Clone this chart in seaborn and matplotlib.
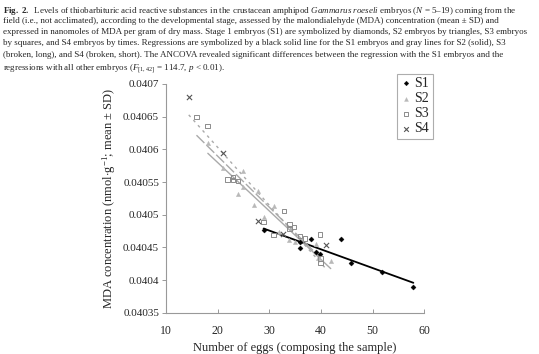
import pandas as pd
import matplotlib
matplotlib.use('Agg')
import matplotlib.pyplot as plt
import seaborn as sns

# values
s1_eggs = [28.9, 36.0, 36.0, 38.0, 39.0, 39.9, 43.9, 45.9, 51.8, 57.9]
s1_mda = [0.040477, 0.040459, 0.040449, 0.040463, 0.040443, 0.040440,
          0.040463, 0.040427, 0.040413, 0.040389]

s2_eggs = [18.1, 21.0, 25.0, 25.0, 24.0, 27.9, 27.0, 30.9, 29.0, 31.9,
           33.9, 34.9, 39.0, 39.5, 41.9]
s2_mda = [0.040609, 0.040571, 0.040567, 0.040542, 0.040531, 0.040537,
          0.040515, 0.040514, 0.040496, 0.040474, 0.040461, 0.040458,
          0.040456, 0.040434, 0.040430]

s3_eggs = [15.9, 18.0, 21.9, 23.0, 23.0, 23.9, 28.9, 30.8, 32.9, 33.9,
           33.9, 34.8, 35.9, 36.9, 39.8, 39.9, 39.9]
s3_mda = [0.040649, 0.040636, 0.040554, 0.040558, 0.040553, 0.040552,
          0.040489, 0.040469, 0.040506, 0.040486, 0.040478, 0.040481,
          0.040468, 0.040464, 0.040470, 0.040433, 0.040426]

s4_eggs = [14.4, 21.0, 27.9, 32.7, 40.9]
s4_mda = [0.040680, 0.040594, 0.040491, 0.040470, 0.040454]

stages = ['S1', 'S2', 'S3', 'S4']
y_ticks = [0.04035, 0.0404, 0.04045, 0.0405, 0.04055, 0.0406, 0.04065, 0.0407]
y_tick_labels = ['0.04035', '0.0404', '0.04045', '0.0405', '0.04055', '0.0406', '0.04065', '0.0407']
x_ticks = [10, 20, 30, 40, 50, 60]

caption = [
    r'$\mathbf{Fig.\ 2.}$  Levels of thiobarbituric acid reactive substances in the crustacean amphipod $\it{Gammarus\ roeseli}$ embryos ($\it{N}$ = 5–19) coming from the',
    'field (i.e., not acclimated), according to the developmental stage, assessed by the malondialehyde (MDA) concentration (mean ± SD) and',
    'expressed in nanomoles of MDA per gram of dry mass. Stage 1 embryos (S1) are symbolized by diamonds, S2 embryos by triangles, S3 embryos',
    'by squares, and S4 embryos by times. Regressions are symbolized by a black solid line for the S1 embryos and gray lines for S2 (solid), S3',
    '(broken, long), and S4 (broken, short). The ANCOVA revealed significant differences between the regression with the S1 embryos and the',
    r'regressions with all other embryos ($\it{F}_{[1,42]}$ = 114.7, $\it{p}$ < 0.01).',
]

df = pd.concat([
    pd.DataFrame({'eggs': s1_eggs, 'mda': s1_mda, 'stage': 'S1'}),
    pd.DataFrame({'eggs': s2_eggs, 'mda': s2_mda, 'stage': 'S2'}),
    pd.DataFrame({'eggs': s3_eggs, 'mda': s3_mda, 'stage': 'S3'}),
    pd.DataFrame({'eggs': s4_eggs, 'mda': s4_mda, 'stage': 'S4'}),
], ignore_index=True)

sns.set_style('white')
plt.rcParams['font.family'] = ['Liberation Serif', 'DejaVu Serif']
plt.rcParams['mathtext.fontset'] = 'custom'
plt.rcParams['mathtext.rm'] = 'Liberation Serif'
plt.rcParams['mathtext.it'] = 'Liberation Serif:italic'
plt.rcParams['mathtext.bf'] = 'Liberation Serif:bold'

fig = plt.figure(figsize=(5.39, 3.54), dpi=100)
ax = fig.add_axes([0.308, 0.116, 0.479, 0.647])

styles = {
    'S1': dict(marker='D', s=7, color='black', edgecolor='black'),
    'S2': dict(marker='^', s=10, color='#b8b8b8', edgecolor='#b8b8b8'),
    'S3': dict(marker='s', s=10, color='none', edgecolor='#8c8c8c', linewidth=0.7),
    'S4': dict(marker='x', s=14, color='#555555', linewidth=0.8),
}
lines = {
    'S1': dict(color='black', lw=1.3, ls='-'),
    'S2': dict(color='#aaaaaa', lw=1.0, ls='-'),
    'S3': dict(color='#aaaaaa', lw=1.0, ls=(0, (8, 2))),
    'S4': dict(color='#aaaaaa', lw=1.0, ls=(0, (2, 3))),
}

for st in stages:
    sub = df[df['stage'] == st]
    sns.regplot(data=sub, x='eggs', y='mda', scatter=False, ci=None,
                line_kws=lines[st], ax=ax)
for st in stages:
    sub = df[df['stage'] == st]
    sns.scatterplot(data=sub, x='eggs', y='mda', label=st, ax=ax,
                    zorder=3, **styles[st])

ax.set_xlim(10, 60)
ax.set_ylim(0.04035, 0.0407)
ax.set_xticks(x_ticks)
ax.set_xticklabels([str(t) for t in x_ticks])
ax.set_yticks(y_ticks)
ax.set_yticklabels(y_tick_labels)
ax.set_xlabel('Number of eggs (composing the sample)', fontsize=9, labelpad=3)
ax.set_ylabel(r'MDA concentration (nmol$\cdot$g$^{-1}$; mean ± SD)', fontsize=9, labelpad=4)

for side in ['top', 'right']:
    ax.spines[side].set_visible(False)
for side in ['left', 'bottom']:
    ax.spines[side].set_color('#999999')
    ax.spines[side].set_linewidth(0.8)
ax.tick_params(axis='y', direction='out', length=3, width=0.7, color='#999999',
               labelsize=8, pad=2, left=True)
ax.tick_params(axis='x', direction='in', length=3, width=0.7, color='#999999',
               labelsize=8.5, pad=9, bottom=True)

leg = ax.legend(loc='upper left', bbox_to_anchor=(0.737, 0.792),
                bbox_transform=fig.transFigure, frameon=True, fancybox=False,
                fontsize=10, handletextpad=0.2, handlelength=0.8,
                borderpad=0.25, labelspacing=0.15, borderaxespad=0,
                markerscale=0.9)
leg.get_frame().set_edgecolor('#999999')
leg.get_frame().set_linewidth(0.8)

for i, line in enumerate(caption):
    fig.text(0.006, 0.985 - i * 0.032, line, fontsize=6.45, va='top', ha='left')

fig.savefig('out.png', dpi=100)
